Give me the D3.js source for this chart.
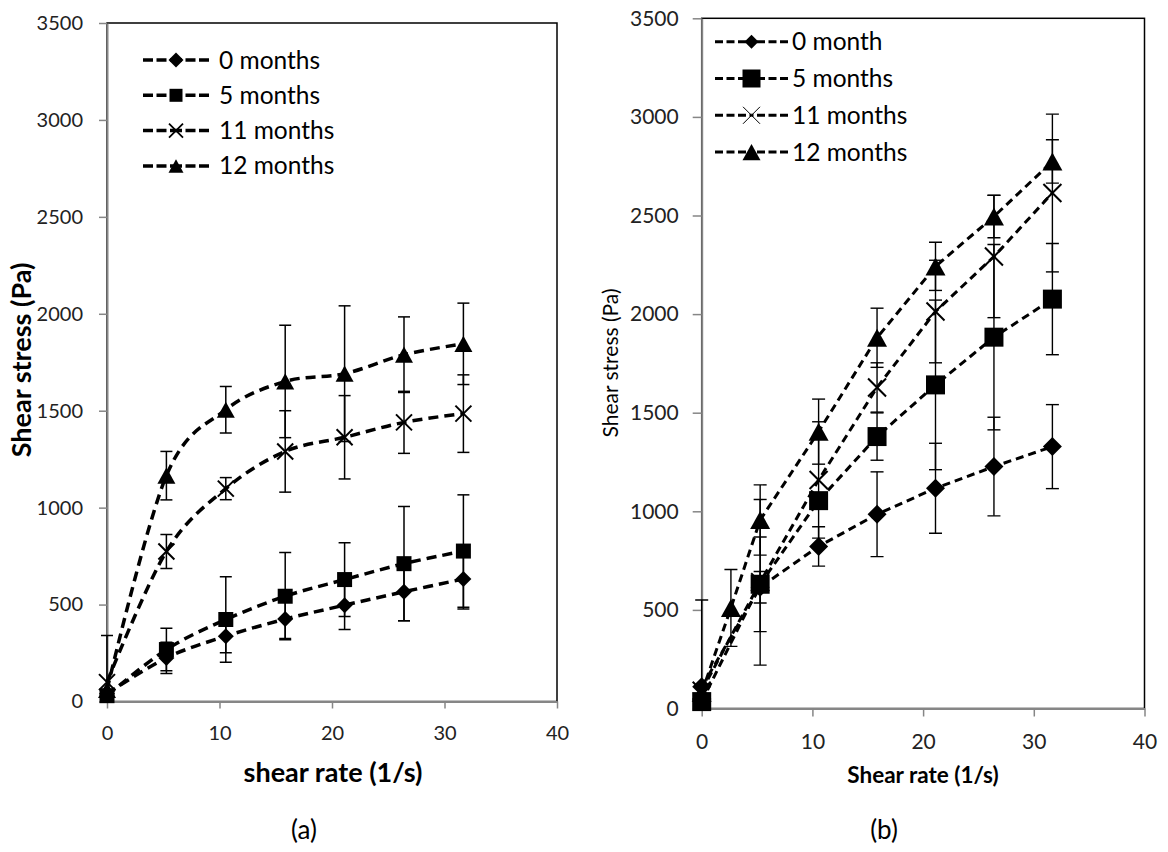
<!DOCTYPE html>
<html><head><meta charset="utf-8">
<script src="https://cdn.jsdelivr.net/npm/d3@7"></script>
<style>body{margin:0;background:#fff}</style>
</head><body>
<svg id="c" width="1168" height="852"></svg>
<script>
// ---------- data ----------
const yTickValues = [0, 500, 1000, 1500, 2000, 2500, 3000, 3500];
const xTickValues = [0, 10, 20, 30, 40];
const legendA = ["0 months", "5 months", "11 months", "12 months"];
const legendB = ["0 month", "5 months", "11 months", "12 months"];
const markerTypes = ["diamond", "square", "x", "triangle"];

// panel (a)
const rateA = [0, 5.28, 10.56, 15.84, 21.12, 26.4, 31.68];
const a0m = [40, 225, 337, 425, 497, 566, 632];
const a0mErr = [0, 80, 85, 100, 125, 150, 155];
const a5m = [30, 268, 423, 543, 629, 711, 776];
const a5mErr = [0, 110, 220, 225, 190, 295, 290];
const a11m = [100, 774, 1098, 1290, 1363, 1440, 1485];
const a11mErr = [0, 88, 57, 210, 215, 160, 200];
const a12m = [60, 1165, 1505, 1651, 1691, 1789, 1845];
const a12mErr = [280, 125, 120, 290, 350, 195, 210];

// panel (b)
const rateB = [0, 5.28, 10.56, 15.84, 21.12, 26.4, 31.68];
const rateB12 = [0, 2.64, 5.28, 10.56, 15.84, 21.12, 26.4, 31.68];
const b0m = [110, 615, 822, 985, 1117, 1227, 1328];
const b0mErr = [440, 80, 100, 215, 228, 250, 213];
const b5m = [35, 630, 1054, 1379, 1641, 1883, 2076];
const b5mErr = [0, 240, 40, 120, 430, 470, 282];
const b11m = [90, 640, 1159, 1628, 2013, 2292, 2614];
const b11mErr = [0, 420, 295, 125, 260, 310, 400];
const b12m = [80, 510, 956, 1404, 1880, 2242, 2495, 2774];
const b12mErr = [0, 195, 178, 165, 150, 122, 108, 110];

// ---------- helpers ----------
const zip = (xs, ys, es) => xs.map((x, i) => ({x, y: ys[i], e: es[i]}));
const svg = d3.select("#c");
svg.append("rect").attr("width", 1168).attr("height", 852).attr("fill", "#fff");
const FONT = "Lato, 'Open Sans', sans-serif";

function markerPath(type, s) {
  const h = s / 2;
  if (type === "diamond") return `M0,${-h}L${h},0L0,${h}L${-h},0Z`;
  if (type === "square") return `M${-h},${-h}H${h}V${h}H${-h}Z`;
  if (type === "triangle") { const th = s * 0.9; return `M0,${-th/2}L${h},${th/2}L${-h},${th/2}Z`; }
  return `M${-h},${-h}L${h},${h}M${h},${-h}L${-h},${h}`;
}
function drawMarker(g, type, cx, cy, s, xw) {
  const p = g.append("path").attr("d", markerPath(type, s)).attr("transform", `translate(${cx},${cy})`);
  if (type === "x") p.attr("fill", "none").attr("stroke", "#000").attr("stroke-width", xw);
  else p.attr("fill", "#000").attr("stroke", "none");
}

let clipN = 0;
function panel(cfg) {
  const g = svg.append("g");
  const x = d3.scaleLinear().domain([0, 40]).range([cfg.left, cfg.right]);
  const y = d3.scaleLinear().domain([0, 3500]).range([cfg.bottom, cfg.top]);
  const cid = "clip" + (clipN++);
  svg.append("clipPath").attr("id", cid).append("rect")
    .attr("x", cfg.left - 30).attr("y", cfg.top).attr("width", cfg.right - cfg.left + 60)
    .attr("height", cfg.bottom - cfg.top);

  // plot border (black)
  g.append("rect").attr("x", cfg.left).attr("y", cfg.top)
    .attr("width", cfg.right - cfg.left).attr("height", cfg.bottom - cfg.top)
    .attr("fill", "none").attr("stroke", "#000").attr("stroke-width", 1.5);

  // axes
  const ya = g.append("g").attr("transform", `translate(${cfg.left},0)`)
    .call(d3.axisLeft(y).tickValues(yTickValues).tickFormat(d3.format("d"))
      .tickSize(cfg.yTick).tickPadding(cfg.yPad).tickSizeOuter(0));
  const xa = g.append("g").attr("transform", `translate(0,${cfg.bottom})`)
    .call(d3.axisBottom(x).tickValues(xTickValues).tickFormat(d3.format("d"))
      .tickSize(cfg.xTick).tickPadding(cfg.xPad).tickSizeOuter(0));
  [ya, xa].forEach(a => {
    a.select(".domain").attr("stroke", "#868686").attr("stroke-width", 2);
    a.selectAll(".tick line").attr("stroke", "#868686").attr("stroke-width", 1.5);
    a.selectAll("text").attr("fill", "#222").style("font-family", FONT).style("font-size", cfg.tickFont + "px");
  });

  const line = d3.line().x(d => x(d.x)).y(d => y(d.y))
    .curve(cfg.smooth ? d3.curveCatmullRom.alpha(0) : d3.curveLinear);

  const eg = g.append("g").attr("clip-path", `url(#${cid})`);
  cfg.series.forEach(s => {
    s.data.filter(d => d.e > 0).forEach(d => {
      const cx = x(d.x), y1 = y(d.y + d.e), y2 = y(d.y - d.e), cw = cfg.cap / 2;
      eg.append("line").attr("x1", cx).attr("x2", cx).attr("y1", y1).attr("y2", y2)
        .attr("stroke", "#000").attr("stroke-width", cfg.errW);
      [y1, y2].forEach(yy => eg.append("line").attr("x1", cx - cw).attr("x2", cx + cw)
        .attr("y1", yy).attr("y2", yy).attr("stroke", "#000").attr("stroke-width", cfg.errW));
    });
  });
  cfg.series.forEach(s => {
    g.append("path").datum(s.data).attr("d", line).attr("fill", "none")
      .attr("stroke", "#000").attr("stroke-width", cfg.lineW).attr("stroke-dasharray", cfg.dash);
    s.data.forEach(d => drawMarker(g, s.marker, x(d.x), y(d.y), cfg.msize[s.marker], cfg.xW));
  });

  // legend
  cfg.series.forEach((s, i) => {
    const ly = cfg.legY + i * cfg.legStep;
    const xm = (cfg.legX1 + cfg.legX2) / 2;
    [[cfg.legX1, xm], [cfg.legX2, xm]].forEach(([a, b]) =>
      g.append("line").attr("x1", a).attr("x2", b).attr("y1", ly).attr("y2", ly)
        .attr("stroke", "#000").attr("stroke-width", cfg.lineW).attr("stroke-dasharray", cfg.legDash));
    drawMarker(g, s.marker, xm, ly, cfg.legMsize[s.marker], cfg.legXW);
    g.append("text").attr("x", cfg.legTextX).attr("y", ly).attr("dy", "0.35em")
      .style("font-family", FONT).style("font-size", cfg.legFont + "px").attr("fill", "#000").text(s.name);
  });

  // axis titles
  g.append("text").attr("x", cfg.xTitle[0]).attr("y", cfg.xTitle[1]).attr("text-anchor", "middle")
    .style("font-family", FONT).style("font-size", cfg.xTitleFont + "px").style("font-weight", "bold").text(cfg.xLabel);
  g.append("text").attr("transform", `translate(${cfg.yTitle[0]},${cfg.yTitle[1]}) rotate(-90)`)
    .attr("text-anchor", "middle").attr("dy", "0.35em")
    .style("font-family", FONT).style("font-size", cfg.yTitleFont + "px").style("font-weight", cfg.yTitleWeight).text(cfg.yLabel);
  // caption
  g.append("text").attr("x", cfg.caption[0]).attr("y", cfg.caption[1]).attr("text-anchor", "middle")
    .style("font-family", FONT).style("font-size", "26px").text(cfg.captionText);
}

panel({
  left: 107, right: 557, top: 23, bottom: 701.5, smooth: true,
  yTick: 8, yPad: 16, xTick: 7, xPad: 17, tickFont: 20,
  lineW: 3.5, dash: "10,6", errW: 1.5, cap: 12, xW: 2,
  msize: {diamond: 16, square: 15, x: 16, triangle: 18},
  series: [
    {name: legendA[0], marker: markerTypes[0], data: zip(rateA, a0m, a0mErr)},
    {name: legendA[1], marker: markerTypes[1], data: zip(rateA, a5m, a5mErr)},
    {name: legendA[2], marker: markerTypes[2], data: zip(rateA, a11m, a11mErr)},
    {name: legendA[3], marker: markerTypes[3], data: zip(rateA, a12m, a12mErr)}
  ],
  legY: 60, legStep: 35.3, legX1: 143, legX2: 209, legTextX: 219, legFont: 24.5, legDash: "10,3.5",
  legMsize: {diamond: 15, square: 13, x: 14, triangle: 15}, legXW: 1.8,
  xLabel: "shear rate (1/s)", xTitle: [333, 782], xTitleFont: 27,
  yLabel: "Shear stress (Pa)", yTitle: [22, 360], yTitleFont: 27, yTitleWeight: "bold",
  caption: [304, 839], captionText: "(a)"
});

panel({
  left: 701.7, right: 1144.5, top: 18.3, bottom: 708.5, smooth: false,
  yTick: 9, yPad: 14, xTick: 8, xPad: 18, tickFont: 21,
  lineW: 3, dash: "8,5", errW: 1.4, cap: 13, xW: 2,
  msize: {diamond: 19, square: 19, x: 18, triangle: 20},
  series: [
    {name: legendB[0], marker: markerTypes[0], data: zip(rateB, b0m, b0mErr)},
    {name: legendB[1], marker: markerTypes[1], data: zip(rateB, b5m, b5mErr)},
    {name: legendB[2], marker: markerTypes[2], data: zip(rateB, b11m, b11mErr)},
    {name: legendB[3], marker: markerTypes[3], data: zip(rateB12, b12m, b12mErr)}
  ],
  legY: 41.7, legStep: 36.8, legX1: 715, legX2: 788, legTextX: 792, legFont: 24.5, legDash: "8,3.5",
  legMsize: {diamond: 14, square: 18, x: 17, triangle: 18}, legXW: 1,
  xLabel: "Shear rate (1/s)", xTitle: [923, 783], xTitleFont: 22.5,
  yLabel: "Shear stress (Pa)", yTitle: [611, 363], yTitleFont: 21, yTitleWeight: "normal",
  caption: [884, 839], captionText: "(b)"
});
</script>
</body></html>
